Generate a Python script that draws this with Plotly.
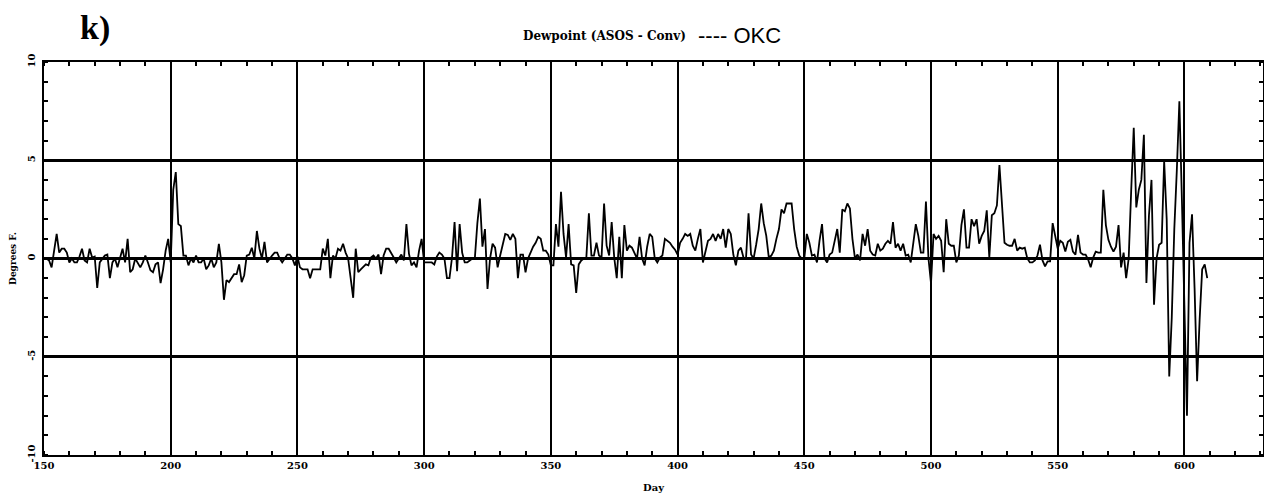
"""Dewpoint difference (ASOS - Conv) at OKC, daily series redrawn with Plotly."""

import plotly.graph_objects as go

FIRST_DAY = 151

# daily values, degrees F in 50-day blocks
DEW_151_200 = [
    0.0, -0.1, -0.45, 0.4, 1.25, 0.3, 0.5, 0.5, 0.3, -0.2,
    0.0, -0.2, -0.2, 0.1, 0.5, -0.1, -0.2, 0.5, 0.05, 0.1,
    -1.5, -0.2, 0.0, 0.15, 0.2, -1.0, -0.2, 0.0, -0.45, 0.0,
    0.5, -0.2, 1.0, -0.7, -0.55, 0.0, -0.2, -0.45, -0.2, 0.15,
    -0.2, -0.6, -0.7, -0.3, -0.2, -1.25, -0.55, 0.4, 1.0, -0.2,
]
DEW_201_250 = [
    3.5, 4.4, 1.75, 1.65, 0.15, 0.15, -0.35, 0.0, -0.2, 0.15,
    -0.2, -0.2, 0.0, -0.55, -0.35, 0.0, -0.45, -0.2, 0.75, -0.2,
    -2.1, -1.1, -1.2, -1.0, -0.8, -0.8, -0.3, -1.2, -0.85, 0.15,
    0.2, 0.55, 0.0, 1.4, 0.5, 0.0, 0.85, -0.2, 0.0, 0.15,
    0.3, 0.3, 0.0, -0.2, 0.0, 0.2, 0.2, 0.0, -0.35, 0.1,
]
DEW_251_300 = [
    -0.45, -0.55, -0.55, -0.55, -1.0, -0.55, -0.55, -0.55, -0.55, 0.5,
    0.15, 1.0, -1.0, 0.15, 0.0, 0.5, 0.4, 0.75, 0.3, 0.0,
    -0.9, -2.0, 0.5, -0.7, -0.55, -0.4, -0.3, -0.35, 0.05, 0.15,
    0.0, 0.2, -0.8, 0.15, 0.5, 0.5, 0.3, 0.05, -0.2, 0.0,
    0.2, -0.1, 1.75, 0.25, -0.35, -0.2, -0.45, 0.4, 1.0, -0.2,
]
DEW_301_350 = [
    -0.2, -0.2, -0.2, -0.3, 0.1, 0.3, 0.2, 0.0, -1.0, -1.0,
    0.05, 1.85, -0.65, 1.75, 0.3, -0.2, -0.2, -0.1, 0.0, 0.0,
    1.8, 3.05, 0.6, 1.5, -1.55, 0.0, 0.75, 0.55, -0.45, 0.15,
    0.65, 1.25, 1.2, 0.95, 1.25, 1.0, -1.0, 0.2, 0.2, -0.7,
    0.0, 0.3, 0.6, 0.8, 1.1, 1.0, 0.4, 0.4, 0.2, -0.35,
]
DEW_351_400 = [
    -0.35, 1.75, 0.6, 3.4, 1.25, 0.05, 1.75, -0.3, -0.35, -1.75,
    -0.3, -0.1, 0.0, 0.05, 2.3, 0.15, 0.15, 0.8, 0.15, 0.05,
    2.8, 0.65, 0.15, 1.85, 0.05, -1.0, 1.1, -1.0, 1.7, 0.4,
    0.65, 0.55, 0.3, 0.0, 1.1, 0.0, -0.35, 0.6, 1.25, 1.1,
    0.0, -0.2, 0.05, 0.15, 1.0, 0.9, 0.8, 0.6, 0.45, 0.2,
]
DEW_401_450 = [
    0.8, 1.0, 1.25, 1.15, 1.25, 0.65, 0.4, 1.0, 1.5, -0.2,
    0.3, 0.9, 1.0, 1.25, 0.9, 1.25, 1.0, 1.5, 0.55, 1.5,
    1.25, 0.2, -0.35, 0.4, 0.55, 0.05, 0.0, 2.3, 0.2, 0.0,
    0.7, 1.5, 2.8, 1.8, 1.15, 0.05, 0.15, 0.4, 1.0, 1.5,
    2.5, 2.3, 2.8, 2.8, 2.8, 1.5, 0.6, 0.15, 0.0, 0.0,
]
DEW_451_500 = [
    1.25, 0.8, 0.15, 0.2, -0.2, 0.9, 1.75, 0.0, -0.2, 0.2,
    0.3, 0.9, 1.5, 0.3, 2.5, 2.4, 2.8, 2.55, 1.0, 0.0,
    0.2, -0.1, 1.25, 0.65, 1.5, 0.4, 0.2, 0.15, 0.75, 0.4,
    0.5, 0.75, 0.9, 0.75, 1.85, 0.55, 0.75, 0.4, 0.75, 0.15,
    0.2, -0.2, 0.65, 1.75, 1.15, 0.3, 0.3, 2.9, 0.0, -1.25,
]
DEW_501_550 = [
    1.25, 1.0, 1.15, 0.9, -0.7, 2.0, 0.75, 0.65, 0.65, -0.2,
    0.15, 1.7, 2.5, 0.55, 0.55, 2.0, 1.65, 2.0, 0.75, 1.15,
    1.4, 2.45, 0.05, 2.2, 2.3, 2.7, 4.75, 3.0, 0.8, 0.7,
    0.65, 0.65, 1.0, 0.4, 0.55, 0.5, 0.55, 0.0, -0.2, -0.2,
    -0.1, 0.15, 0.7, -0.1, -0.4, -0.15, -0.15, 1.8, 1.15, 0.5,
]
DEW_551_609 = [
    0.9, 0.8, 0.35, 0.85, 0.95, 0.35, 0.2, 1.2, 0.3, 0.2,
    0.2, -0.05, -0.45, 0.05, 0.35, 0.3, 0.3, 3.5, 1.7, 0.95,
    0.6, 0.35, 0.6, 1.7, -0.45, 0.3, -1.0, 0.0, 3.5, 6.65,
    2.6, 3.5, 4.0, 6.3, -1.25, 2.2, 4.0, -2.35, 0.0, 0.7,
    0.8, 4.95, 2.0, -6.0, -3.0, 1.5, 4.5, 8.0, 3.0, -2.5,
    -8.0, 0.8, 2.25, -1.5, -6.25, -3.1, -0.55, -0.3, -1.0,
]

X_TICKS = [150, 200, 250, 300, 350, 400, 450, 500, 550, 600]
X_TICK_LABELS = ["150", "200", "250", "300", "350", "400", "450", "500", "550", "600"]
Y_TICKS = [-10, -5, 0, 5, 10]
Y_TICK_LABELS = ["-10", "-5", "0", "5", "10"]

values = (
    DEW_151_200 + DEW_201_250 + DEW_251_300 + DEW_301_350 + DEW_351_400
    + DEW_401_450 + DEW_451_500 + DEW_501_550 + DEW_551_609
)
days = [FIRST_DAY + i for i in range(len(values))]

SERIF = "DejaVu Serif"

fig = go.Figure()
fig.add_trace(
    go.Scatter(
        x=days,
        y=values,
        mode="lines",
        line={"color": "black", "width": 1.8},
        showlegend=False,
    )
)

# the page body keeps its default 8px margin, so the canvas is 16px smaller
# than the window and the margins are shifted to compensate
fig.update_layout(
    width=1256,
    height=486,
    margin={"l": 36, "r": 1, "t": 54, "b": 39},
    paper_bgcolor="white",
    plot_bgcolor="white",
    font={"family": SERIF, "color": "black"},
)
fig.update_xaxes(
    range=[150, 631],
    automargin=False,
    tickmode="array",
    tickvals=X_TICKS,
    ticktext=X_TICK_LABELS,
    tickfont={"family": SERIF, "size": 10, "weight": "bold", "color": "black"},
    ticks="",
    showgrid=True,
    gridcolor="black",
    gridwidth=2,
    zeroline=False,
    showline=True,
    linecolor="black",
    linewidth=2,
    mirror="allticks",
    minor={"dtick": 10, "ticks": "inside", "ticklen": 4, "tickwidth": 1.5,
           "tickcolor": "black", "showgrid": False},
    title={"text": "Day", "font": {"family": SERIF, "size": 10, "weight": "bold"},
           "standoff": 14},
)
fig.update_yaxes(
    range=[-10, 10],
    automargin=False,
    tickmode="array",
    tickvals=Y_TICKS,
    ticktext=Y_TICK_LABELS,
    tickangle=-90,
    ticklabelstandoff=3,
    tickfont={"family": SERIF, "size": 10, "weight": "bold", "color": "black"},
    ticks="",
    showgrid=True,
    gridcolor="black",
    gridwidth=2.5,
    zeroline=False,
    showline=True,
    linecolor="black",
    linewidth=2,
    mirror="allticks",
    minor={"dtick": 1, "ticks": "inside", "ticklen": 4, "tickwidth": 1.5,
           "tickcolor": "black", "showgrid": False},
    title={"text": "Degrees F.", "font": {"family": SERIF, "size": 9, "weight": "bold"},
           "standoff": 8},
)

fig.add_annotation(
    text="k)", xref="paper", yref="paper", x=0.028, y=1.0, yshift=34,
    xanchor="left", yanchor="middle", showarrow=False,
    font={"family": "Liberation Serif", "size": 34, "weight": "bold", "color": "black"},
)
fig.add_annotation(
    text="Dewpoint (ASOS - Conv)", xref="paper", yref="paper", x=0.528, y=1.0, yshift=26,
    xanchor="right", yanchor="middle", showarrow=False,
    font={"family": SERIF, "size": 12, "weight": "bold", "color": "black"},
)
fig.add_annotation(
    text="---- OKC", xref="paper", yref="paper", x=0.535, y=1.0, yshift=27,
    xanchor="left", yanchor="middle", showarrow=False,
    font={"family": "Liberation Sans", "size": 22, "color": "black"},
)

fig.write_html("out.html")
